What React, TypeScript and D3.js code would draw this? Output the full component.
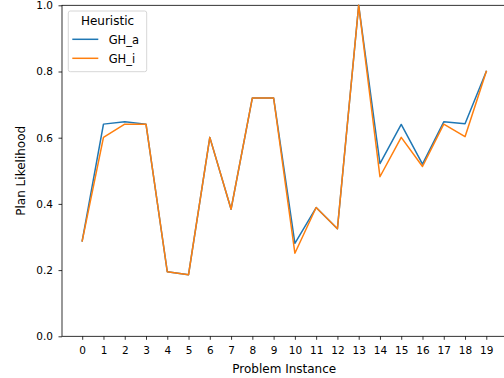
/**
 * Plan likelihood per problem instance, two heuristics
 */

import { useEffect, useRef } from 'react';
import * as d3 from 'd3';

const instances = [0, 1, 2, 3, 4, 5, 6, 7, 8, 9, 10, 11, 12, 13, 14, 15, 16, 17, 18, 19];
const ghA = [0.288, 0.641, 0.648, 0.641, 0.195, 0.186, 0.601, 0.384, 0.72, 0.72,
    0.281, 0.389, 0.325, 1.0, 0.522, 0.64, 0.52, 0.648, 0.642, 0.8];
const ghI = [0.288, 0.601, 0.641, 0.641, 0.195, 0.186, 0.601, 0.384, 0.72, 0.72,
    0.251, 0.389, 0.325, 1.0, 0.482, 0.601, 0.513, 0.641, 0.603, 0.8];
const yTicks = [0.0, 0.2, 0.4, 0.6, 0.8, 1.0];
const seriesNames = ['GH_a', 'GH_i'];
const seriesColors = ['#1f77b4', '#ff7f0e'];

export default function App() {
    const svgRef = useRef<SVGSVGElement>(null);

    useEffect(() => {
        if (!svgRef.current) return;
        const svg = d3.select(svgRef.current);
        svg.selectAll('*').remove();

        const font = 'DejaVu Sans, sans-serif';
        const left = 62, right = 506.5, top = 5.3, bottom = 336.3;

        const x = d3.scaleLinear().domain([-0.95, 19.95]).range([left, right]);
        const y = d3.scaleLinear().domain([0, 1]).range([bottom, top]);

        // Spines
        svg.append('rect')
            .attr('x', left).attr('y', top)
            .attr('width', right - left).attr('height', bottom - top)
            .attr('fill', 'none').attr('stroke', '#000').attr('stroke-width', 0.8);

        // X axis
        const xAxis = svg.append('g')
            .attr('transform', `translate(0,${bottom})`)
            .call(d3.axisBottom(x).tickValues(instances).tickSize(3.5).tickPadding(6.5).tickFormat(d3.format('d')));
        xAxis.select('.domain').remove();
        xAxis.selectAll('.tick line').attr('stroke', '#000').attr('stroke-width', 0.8);
        xAxis.selectAll('.tick text')
            .attr('fill', '#000').attr('font-family', font).attr('font-size', '10.5px');

        // Y axis
        const yAxis = svg.append('g')
            .attr('transform', `translate(${left},0)`)
            .call(d3.axisLeft(y).tickValues(yTicks).tickSize(3.5).tickPadding(5.5).tickFormat(d3.format('.1f')));
        yAxis.select('.domain').remove();
        yAxis.selectAll('.tick line').attr('stroke', '#000').attr('stroke-width', 0.8);
        yAxis.selectAll('.tick text')
            .attr('fill', '#000').attr('font-family', font).attr('font-size', '10.5px');

        // Axis labels
        svg.append('text')
            .attr('x', (left + right) / 2).attr('y', 373)
            .attr('text-anchor', 'middle')
            .attr('font-family', font).attr('font-size', '12px')
            .text('Problem Instance');
        svg.append('text')
            .attr('transform', `translate(25,${(top + bottom) / 2}) rotate(-90)`)
            .attr('text-anchor', 'middle')
            .attr('font-family', font).attr('font-size', '12px')
            .text('Plan Likelihood');

        // Lines
        const line = d3.line<number>()
            .x((_, i) => x(instances[i]))
            .y(d => y(d));
        [ghA, ghI].forEach((vals, k) => {
            svg.append('path')
                .datum(vals)
                .attr('d', line)
                .attr('fill', 'none')
                .attr('stroke', seriesColors[k])
                .attr('stroke-width', 1.5)
                .attr('stroke-linejoin', 'round')
                .attr('stroke-linecap', 'square');
        });

        // Legend
        const lg = svg.append('g');
        lg.append('rect')
            .attr('x', 68.3).attr('y', 11).attr('width', 78.4).attr('height', 60.7)
            .attr('rx', 2)
            .attr('fill', '#fff').attr('fill-opacity', 0.8)
            .attr('stroke', '#ccc').attr('stroke-width', 0.8);
        lg.append('text')
            .attr('x', 107.5).attr('y', 25)
            .attr('text-anchor', 'middle')
            .attr('font-family', font).attr('font-size', '12px')
            .text('Heuristic');
        seriesNames.forEach((name, k) => {
            const cy = 39.3 + k * 19;
            lg.append('line')
                .attr('x1', 72.3).attr('x2', 98.3).attr('y1', cy).attr('y2', cy)
                .attr('stroke', seriesColors[k]).attr('stroke-width', 1.5);
            lg.append('text')
                .attr('x', 108.7).attr('y', cy + 4.2)
                .attr('font-family', font).attr('font-size', '11.5px')
                .text(name);
        });
    }, []);

    return (
        <svg
            ref={svgRef}
            width={504}
            height={378}
            style={{ position: 'absolute', left: 0, top: 0, background: '#fff' }}
        />
    );
}
